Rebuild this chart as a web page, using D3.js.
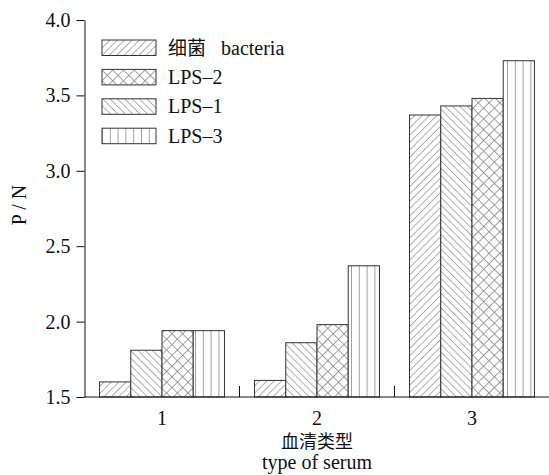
<!DOCTYPE html>
<html>
<head>
<meta charset='utf-8'>
<script src="https://cdnjs.cloudflare.com/ajax/libs/d3/7.8.5/d3.min.js"></script>
<style>
body { margin:0; background:#fff; }
text { font-family:"Liberation Serif", "Noto Sans CJK SC", serif; fill:#111; }
</style>
</head>
<body>
<script>
// data
var groups = ['1', '2', '3'];
var seriesKeys = ['bacteria', 'lps1', 'lps2', 'lps3'];
var bacteria = [1.60, 1.61, 3.37];
var lps1 = [1.81, 1.86, 3.43];
var lps2 = [1.94, 1.98, 3.48];
var lps3 = [1.94, 2.37, 3.73];
var legendKeys = ['bacteria', 'lps2', 'lps1', 'lps3'];
var legendNames = {bacteria: ['细菌', 'bacteria'], lps2: ['LPS–2'], lps1: ['LPS–1'], lps3: ['LPS–3']};
var yTicks = [1.5, 2.0, 2.5, 3.0, 3.5, 4.0];
var yTitle = 'P / N',
	xTitleZh = '血清类型',
	xTitleEn = 'type of serum';

var values = {bacteria: bacteria, lps1: lps1, lps2: lps2, lps3: lps3};

var canvasWidth = 549, canvasHeight = 475;
var plotLeft = 84.5, plotRight = 549.5, plotTop = 20, plotBottom = 397;

var svg = d3.select('body').append('svg').attr('width', canvasWidth).attr('height', canvasHeight);

// hatch patterns
var defs = svg.append('defs');
function hatch(id, w, angles, color) {
	var p = defs.append('pattern').attr('id', id).attr('patternUnits', 'userSpaceOnUse')
		.attr('width', w).attr('height', w);
	if (angles.length) p.attr('patternTransform', 'rotate(' + angles[0] + ')');
	p.append('rect').attr('width', w).attr('height', w).attr('fill', '#fff');
	p.append('line').attr('x1', 0.5).attr('x2', 0.5).attr('y1', 0).attr('y2', w)
		.attr('stroke', color).attr('stroke-width', 0.8);
	if (angles.length > 1) {
		p.append('line').attr('x1', 0).attr('x2', w).attr('y1', 0.5).attr('y2', 0.5)
			.attr('stroke', color).attr('stroke-width', 0.8);
	}
}
hatch('p-bacteria', 5.2, [45], '#9a9a9a');
hatch('p-lps1', 5.2, [-45], '#9a9a9a');
hatch('p-lps2', 7.6, [45, 1], '#8a8a8a');
hatch('p-lps3', 7.8, [], '#8a8a8a');

var x = d3.scaleBand().domain(groups).range([plotLeft, plotRight]).paddingInner(0.194).paddingOuter(0.097);
var xs = d3.scaleBand().domain(seriesKeys).range([0, x.bandwidth()]);
var y = d3.scaleLinear().domain([1.5, 4]).range([plotBottom, plotTop]);

// bars
var g = svg.append('g');
groups.forEach(function (grp, i) {
	g.selectAll(null).data(seriesKeys).enter().append('rect')
		.attr('x', function (k) { return x(grp) + xs(k); })
		.attr('y', function (k) { return y(values[k][i]); })
		.attr('width', xs.bandwidth())
		.attr('height', function (k) { return y(1.5) - y(values[k][i]); })
		.attr('fill', function (k) { return 'url(#p-' + k + ')'; })
		.attr('stroke', '#333').attr('stroke-width', 1);
});

// y axis
var yAxis = svg.append('g').attr('transform', 'translate(' + plotLeft + ',0)')
	.call(d3.axisLeft(y).tickValues(yTicks).tickFormat(d3.format('.1f')).tickSize(8).tickPadding(6).tickSizeOuter(0));
yAxis.selectAll('text').style('font-size', '20px').style('font-family', '"Liberation Serif", serif').attr('fill', '#111');
yAxis.selectAll('path, line').attr('stroke', '#111');

// x axis: baseline, ticks between groups, labels at centres
var step = x.step();
svg.append('line').attr('x1', plotLeft).attr('x2', plotRight).attr('y1', plotBottom).attr('y2', plotBottom)
	.attr('stroke', '#111').attr('stroke-width', 1.2);
svg.selectAll('.xtick').data(groups.slice(1)).enter().append('line').attr('class', 'xtick')
	.attr('x1', function (d) { return x(d) - step * x.paddingInner() / 2; })
	.attr('x2', function (d) { return x(d) - step * x.paddingInner() / 2; })
	.attr('y1', plotBottom).attr('y2', plotBottom - 11).attr('stroke', '#111');
svg.selectAll('.xlab').data(groups).enter().append('text').attr('class', 'xlab')
	.attr('x', function (d) { return x(d) + x.bandwidth() / 2; })
	.attr('y', 425).attr('text-anchor', 'middle').style('font-size', '20px').text(function (d) { return d; });

svg.append('text').attr('x', (plotLeft + plotRight) / 2).attr('y', 448).attr('text-anchor', 'middle')
	.style('font-size', '18px').style('font-family', '"Noto Sans CJK SC", sans-serif').text(xTitleZh);
svg.append('text').attr('x', (plotLeft + plotRight) / 2).attr('y', 469).attr('text-anchor', 'middle')
	.style('font-size', '20px').text(xTitleEn);

svg.append('text').attr('transform', 'translate(26,205) rotate(-90)').attr('text-anchor', 'middle')
	.style('font-size', '20px').text(yTitle);

// legend
var legend = svg.append('g').attr('transform', 'translate(102,40)');
legendKeys.forEach(function (k, i) {
	var row = legend.append('g').attr('transform', 'translate(0,' + (i * 29.4) + ')');
	row.append('rect').attr('width', 54).attr('height', 15.5)
		.attr('fill', 'url(#p-' + k + ')').attr('stroke', '#333');
	var names = legendNames[k];
	if (names.length > 1) {
		row.append('text').attr('x', 66).attr('y', 15).style('font-size', '19px')
			.style('font-family', '"Noto Sans CJK SC", sans-serif').text(names[0]);
		row.append('text').attr('x', 119).attr('y', 14.5).style('font-size', '20px').text(names[1]);
	} else {
		row.append('text').attr('x', 66).attr('y', 14.5).style('font-size', '20px').text(names[0]);
	}
});
</script>
</body>
</html>
